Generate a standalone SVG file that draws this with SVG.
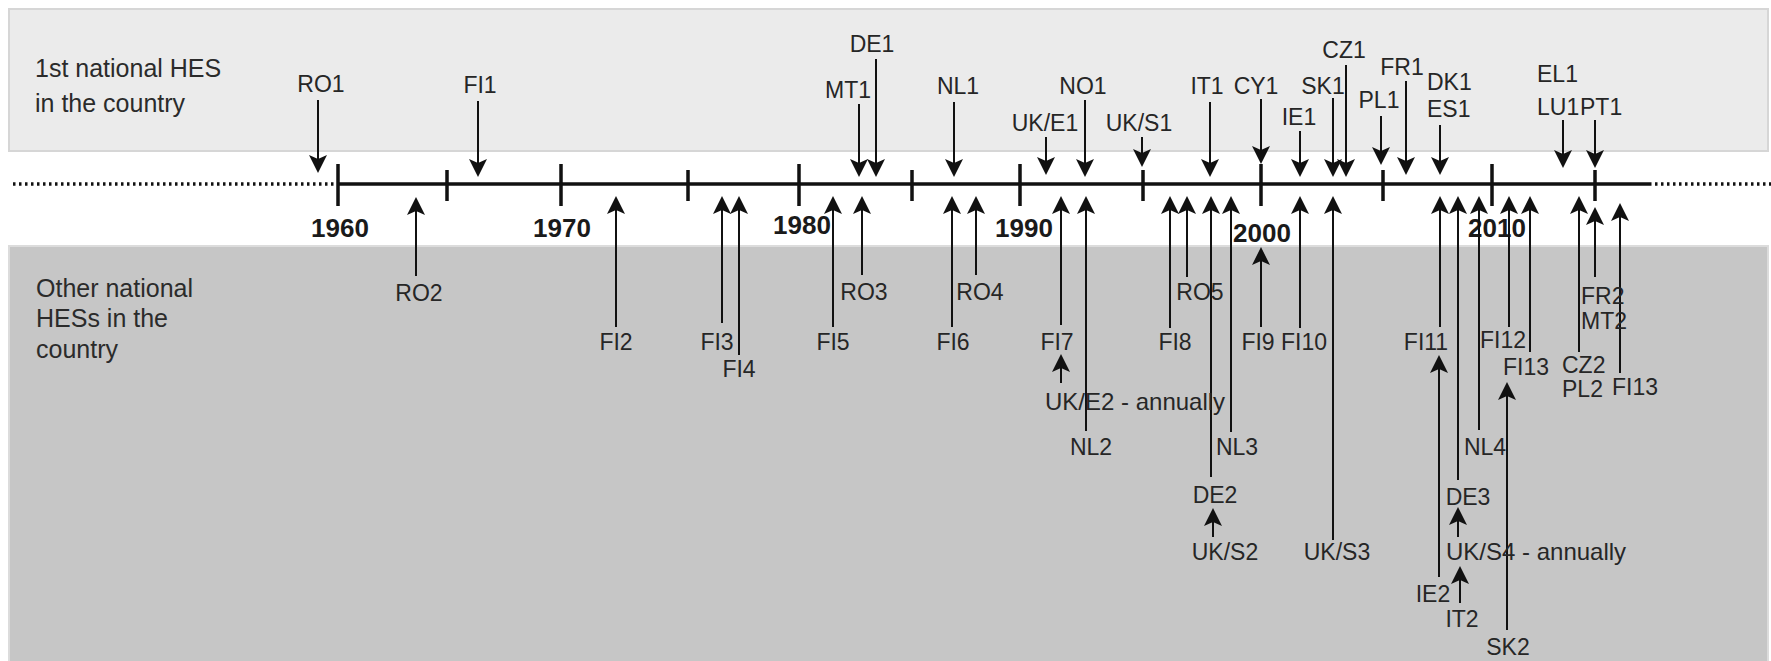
<svg xmlns="http://www.w3.org/2000/svg" width="1771" height="661" viewBox="0 0 1771 661">
<defs>
<style>
.lb{font-family:"Liberation Sans",Arial,sans-serif;font-size:23px;fill:#262626;text-anchor:middle}
.ls{font-family:"Liberation Sans",Arial,sans-serif;font-size:23px;fill:#262626}
.la{font-family:"Liberation Sans",Arial,sans-serif;font-size:24px;fill:#262626}
.yr{font-family:"Liberation Sans",Arial,sans-serif;font-size:26px;font-weight:bold;fill:#1a1a1a;text-anchor:middle}
.side{font-family:"Liberation Sans",Arial,sans-serif;font-size:25px;fill:#2b2b2b}
.ar{fill:none;stroke:#111;stroke-width:2;marker-end:url(#ah)}
.tk{stroke:#111;stroke-width:3.5}
.dot{stroke:#111;stroke-width:3.5;stroke-dasharray:2.5 3.5}
</style>
<marker id="ah" viewBox="-16 -9 20 18" markerWidth="20" markerHeight="18" refX="0" refY="0" orient="auto" markerUnits="userSpaceOnUse" overflow="visible">
<path d="M3,0 L-15,-9 L-11,0 L-15,9 Z" fill="#111"/>
</marker>
</defs>
<rect width="1771" height="661" fill="#fff"/>
<g id="panels">
<rect x="9" y="9" width="1759" height="142" fill="#ebebeb" stroke="#d6d6d6" stroke-width="2"/>
<rect x="9" y="246" width="1759" height="420" fill="#c6c6c6" stroke="#dcdcdc" stroke-width="2"/>
</g>
<g id="side-labels">
<text class="side" x="35" y="77">1st national HES</text>
<text class="side" x="35" y="112">in the country</text>
<text class="side" x="36" y="297">Other national</text>
<text class="side" x="36" y="327">HESs in the</text>
<text class="side" x="36" y="358">country</text>
</g>
<g id="axis">
<line class="dot" x1="13" y1="184" x2="337" y2="184"/>
<line class="tk" x1="337" y1="184" x2="1649" y2="184"/>
<line class="dot" x1="1649" y1="184" x2="1771" y2="184"/>
<path class="tk" fill="none" d="M338 164V206M561 164V206M799 164V206M1020 164V206M1261 164V206M1492 164V206M447 170V201M688 170V201M912 170V201M1143 170V201M1383 170V201M1595 170V201"/>
<text class="yr" x="340" y="237">1960</text>
<text class="yr" x="562" y="237">1970</text>
<text class="yr" x="802" y="234">1980</text>
<text class="yr" x="1024" y="237">1990</text>
<text class="yr" x="1262" y="242">2000</text>
<text class="yr" x="1497" y="237">2010</text>
</g>
<g id="connectors">
<path class="ar" d="M318 100V170"/>
<path class="ar" d="M478 101V174"/>
<path class="ar" d="M859 104V174"/>
<path class="ar" d="M876 59V174"/>
<path class="ar" d="M954 102V174"/>
<path class="ar" d="M1046 137V172"/>
<path class="ar" d="M1085 100V174"/>
<path class="ar" d="M1142 137V164"/>
<path class="ar" d="M1210 102V174"/>
<path class="ar" d="M1261 99V161"/>
<path class="ar" d="M1300 131V174"/>
<path class="ar" d="M1333 98V174"/>
<path class="ar" d="M1346 65V174"/>
<path class="ar" d="M1381 116V162"/>
<path class="ar" d="M1406 81V172"/>
<path class="ar" d="M1440 125V172"/>
<path class="ar" d="M1563 120V165"/>
<path class="ar" d="M1595 120V165"/>
<path class="ar" d="M416 276V200"/>
<path class="ar" d="M616 327V199"/>
<path class="ar" d="M722 323V199"/>
<path class="ar" d="M739 355V199"/>
<path class="ar" d="M833 327V199"/>
<path class="ar" d="M862 275V199"/>
<path class="ar" d="M952 327V199"/>
<path class="ar" d="M976 275V199"/>
<path class="ar" d="M1061 325V199"/>
<path class="ar" d="M1061 383V357"/>
<path class="ar" d="M1086 431V199"/>
<path class="ar" d="M1170 328V199"/>
<path class="ar" d="M1187 277V199"/>
<path class="ar" d="M1211 477V199"/>
<path class="ar" d="M1213 537V511"/>
<path class="ar" d="M1231 432V199"/>
<path class="ar" d="M1261 327V250"/>
<path class="ar" d="M1300 328V199"/>
<path class="ar" d="M1333 540V199"/>
<path class="ar" d="M1440 327V199"/>
<path class="ar" d="M1439 577V358"/>
<path class="ar" d="M1458 480V199"/>
<path class="ar" d="M1458 537V510"/>
<path class="ar" d="M1460 603V569"/>
<path class="ar" d="M1479 430V199"/>
<path class="ar" d="M1509 327V199"/>
<path class="ar" d="M1530 352V199"/>
<path class="ar" d="M1507 630V385"/>
<path class="ar" d="M1579 352V199"/>
<path class="ar" d="M1595 277V210"/>
<path class="ar" d="M1620 373V206"/>
</g>
<g id="n-RO1"><text class="lb" x="321" y="92">RO1</text></g>
<g id="n-FI1"><text class="lb" x="480" y="93">FI1</text></g>
<g id="n-MT1"><text class="lb" x="848" y="98">MT1</text></g>
<g id="n-DE1"><text class="lb" x="872" y="52">DE1</text></g>
<g id="n-NL1"><text class="lb" x="958" y="94">NL1</text></g>
<g id="n-UKE1"><text class="lb" x="1045" y="131">UK/E1</text></g>
<g id="n-NO1"><text class="lb" x="1083" y="94">NO1</text></g>
<g id="n-UKS1"><text class="lb" x="1139" y="131">UK/S1</text></g>
<g id="n-IT1"><text class="lb" x="1207" y="94">IT1</text></g>
<g id="n-CY1"><text class="lb" x="1256" y="94">CY1</text></g>
<g id="n-IE1"><text class="lb" x="1299" y="125">IE1</text></g>
<g id="n-SK1"><text class="lb" x="1323" y="94">SK1</text></g>
<g id="n-CZ1"><text class="lb" x="1344" y="58">CZ1</text></g>
<g id="n-PL1"><text class="lb" x="1379" y="108">PL1</text></g>
<g id="n-FR1"><text class="lb" x="1402" y="75">FR1</text></g>
<g id="n-DK1-ES1"><text class="ls" x="1427" y="90">DK1</text><text class="ls" x="1427" y="117">ES1</text></g>
<g id="n-EL1-LU1"><text class="ls" x="1537" y="82">EL1</text><text class="ls" x="1537" y="115">LU1</text></g>
<g id="n-PT1"><text class="ls" x="1580" y="115">PT1</text></g>
<g id="n-RO2"><text class="lb" x="419" y="301">RO2</text></g>
<g id="n-FI2"><text class="lb" x="616" y="350">FI2</text></g>
<g id="n-FI3"><text class="lb" x="717" y="350">FI3</text></g>
<g id="n-FI4"><text class="lb" x="739" y="377">FI4</text></g>
<g id="n-FI5"><text class="lb" x="833" y="350">FI5</text></g>
<g id="n-RO3"><text class="lb" x="864" y="300">RO3</text></g>
<g id="n-FI6"><text class="lb" x="953" y="350">FI6</text></g>
<g id="n-RO4"><text class="lb" x="980" y="300">RO4</text></g>
<g id="n-FI7"><text class="lb" x="1057" y="350">FI7</text></g>
<g id="n-UKE2"><text class="la" x="1045" y="410">UK/E2 - annually</text></g>
<g id="n-NL2"><text class="lb" x="1091" y="455">NL2</text></g>
<g id="n-FI8"><text class="lb" x="1175" y="350">FI8</text></g>
<g id="n-RO5"><text class="lb" x="1200" y="300">RO5</text></g>
<g id="n-DE2"><text class="lb" x="1215" y="503">DE2</text></g>
<g id="n-UKS2"><text class="lb" x="1225" y="560">UK/S2</text></g>
<g id="n-NL3"><text class="lb" x="1237" y="455">NL3</text></g>
<g id="n-FI9"><text class="lb" x="1258" y="350">FI9</text></g>
<g id="n-FI10"><text class="lb" x="1304" y="350">FI10</text></g>
<g id="n-UKS3"><text class="lb" x="1337" y="560">UK/S3</text></g>
<g id="n-FI11"><text class="lb" x="1426" y="350">FI11</text></g>
<g id="n-IE2"><text class="lb" x="1433" y="602">IE2</text></g>
<g id="n-DE3"><text class="lb" x="1468" y="505">DE3</text></g>
<g id="n-UKS4"><text class="la" x="1446" y="560">UK/S4 - annually</text></g>
<g id="n-IT2"><text class="lb" x="1462" y="627">IT2</text></g>
<g id="n-NL4"><text class="lb" x="1485" y="455">NL4</text></g>
<g id="n-FI12"><text class="lb" x="1503" y="348">FI12</text></g>
<g id="n-FI13a"><text class="lb" x="1526" y="375">FI13</text></g>
<g id="n-SK2"><text class="lb" x="1508" y="655">SK2</text></g>
<g id="n-CZ2-PL2"><text class="ls" x="1562" y="373">CZ2</text><text class="ls" x="1562" y="397">PL2</text></g>
<g id="n-FR2-MT2"><text class="ls" x="1581" y="304">FR2</text><text class="ls" x="1581" y="329">MT2</text></g>
<g id="n-FI13b"><text class="ls" x="1612" y="395">FI13</text></g>
</svg>
